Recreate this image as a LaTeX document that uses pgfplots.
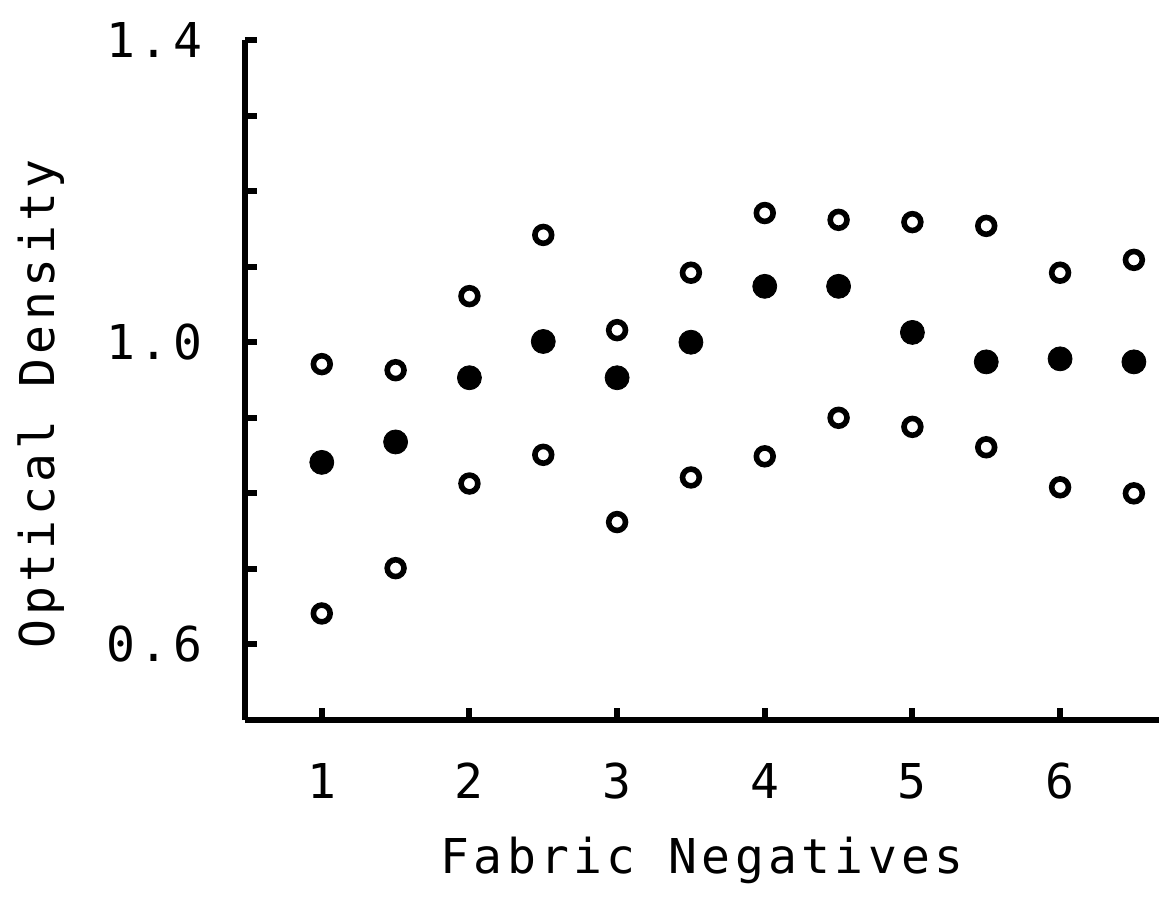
\documentclass[border=0pt]{standalone}
\usepackage{fontspec}
\usepackage{pgfplots}
\pgfplotsset{compat=1.18}
\setmainfont{DejaVu Sans Mono}[LetterSpace=9]
\begin{document}
\begin{tikzpicture}[x=1pt,y=1pt]
\useasboundingbox (-122.5,-96) rectangle (457,360);
\begin{axis}[
  at={(0,0)}, anchor=south west,
  scale only axis, width=457pt, height=340pt,
  xmin=0.48, xmax=6.67, ymin=0.5, ymax=1.4,
  axis x line=bottom, axis y line=left,
  axis line style={line width=3pt, -},
  every inner x axis line/.append style={line width=3pt, -},
  every inner y axis line/.append style={line width=3pt, -},
  every outer x axis line/.append style={line width=3pt, -},
  every outer y axis line/.append style={line width=3pt, -},
  xtick={1,2,3,4,5,6},
  ytick={0.6,0.7,0.8,0.9,1.0,1.1,1.2,1.3,1.4},
  yticklabels={0.6,,,,1.0,,,,1.4},
  tick align=inside, major tick length=6pt,
  tick style={line width=3pt, black},
  major tick style={line width=3pt, black},
  /pgf/number format/assume math mode=true,
  xticklabel style={font=\fontsize{24}{28}\selectfont, yshift=-18pt},
  yticklabel style={font=\fontsize{24}{28}\selectfont, xshift=-18pt},
  xticklabel={\pgfmathprintnumber[fixed]{\tick}},
  ylabel={Optical Density},
  xlabel={Fabric Negatives},
  label style={font=\fontsize{24}{28}\selectfont},
  xlabel style={yshift=-12pt},
  ylabel style={yshift=14pt, xshift=-12pt},
  clip=false,
]
\addplot[only marks, mark=*, mark size=6pt, black] coordinates {
(1,0.841) (1.5,0.868) (2,0.953) (2.5,1.001) (3,0.953) (3.5,1.0)
(4,1.074) (4.5,1.074) (5,1.013) (5.5,0.974) (6,0.978) (6.5,0.974)};
\addplot[only marks, mark=o, mark size=4.2pt, black, mark options={line width=2.8pt}] coordinates {
(1,0.971) (1.5,0.963) (2,1.061) (2.5,1.142) (3,1.016) (3.5,1.092)
(4,1.171) (4.5,1.162) (5,1.159) (5.5,1.154) (6,1.092) (6.5,1.109)};
\addplot[only marks, mark=o, mark size=4.2pt, black, mark options={line width=2.8pt}] coordinates {
(1,0.641) (1.5,0.701) (2,0.813) (2.5,0.851) (3,0.762) (3.5,0.821)
(4,0.849) (4.5,0.900) (5,0.888) (5.5,0.861) (6,0.808) (6.5,0.800)};
\end{axis}
\end{tikzpicture}
\end{document}
